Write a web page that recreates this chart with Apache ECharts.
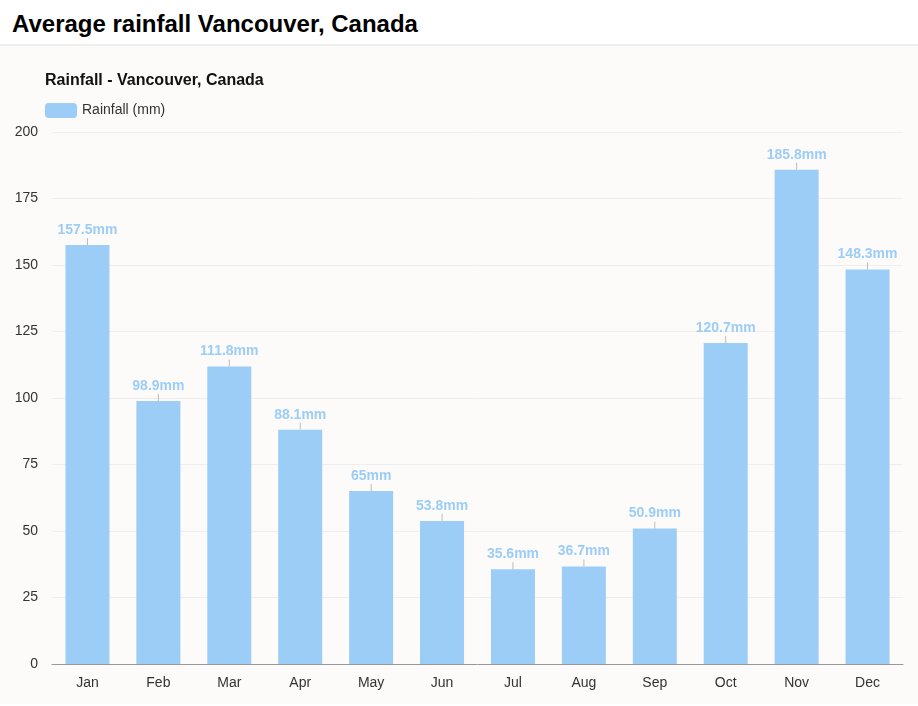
<!DOCTYPE html>
<html>
<head>
<meta charset="utf-8">
<script src="https://cdn.jsdelivr.net/npm/echarts@6/dist/echarts.min.js"></script>
<style>
  body { margin: 0; background: #fff; font-family: Arial, "Liberation Sans", sans-serif; }
  #head { height: 46px; border-bottom: 2px solid #eee; box-sizing: border-box; }
  #head h1 { margin: 0; padding: 10px 0 0 12px; font-size: 24px; font-weight: bold; color: #000; }
  #main { width: 918px; height: 658px; background: #fcfbf9; }
</style>
</head>
<body>
<div id="head"><h1>Average rainfall Vancouver, Canada</h1></div>
<div id="main"></div>
<script>
var months = ['Jan','Feb','Mar','Apr','May','Jun','Jul','Aug','Sep','Oct','Nov','Dec'];
var rainfall = [157.5, 98.9, 111.8, 88.1, 65, 53.8, 35.6, 36.7, 50.9, 120.7, 185.8, 148.3];

var myChart = echarts.init(document.getElementById('main'));
var option = {
    animation: false,
    title: {
        text: 'Rainfall - Vancouver, Canada',
        left: 40, top: 22,
        textStyle: { fontSize: 16, fontWeight: 'bold', color: '#111', fontFamily: 'Arial' }
    },
    legend: {
        left: 40, top: 52,
        itemWidth: 32, itemHeight: 15, itemGap: 6,
        textStyle: { fontSize: 14, color: '#333', fontFamily: 'Arial' },
        data: ['Rainfall (mm)']
    },
    grid: { left: 52, right: 15, top: 86, bottom: 40 },
    xAxis: {
        type: 'category',
        data: months,
        axisTick: { show: false },
        axisLine: { lineStyle: { color: '#999' } },
        axisLabel: { color: '#333', fontSize: 14, margin: 12, fontFamily: 'Arial' }
    },
    yAxis: {
        type: 'value',
        min: 0, max: 200, interval: 25,
        axisLabel: { color: '#333', fontSize: 14, margin: 14, fontFamily: 'Arial' },
        splitLine: { lineStyle: { color: '#eeeeee' } }
    },
    series: [
        {
            name: 'Rainfall (mm)',
            type: 'bar',
            barWidth: 44,
            itemStyle: { color: '#9bcdf7' },
            label: {
                show: true, position: 'top', distance: 8,
                color: '#9bcdf7', fontWeight: 'bold', fontSize: 14, fontFamily: 'Arial',
                formatter: function (p) { return p.value + 'mm'; }
            },
            data: rainfall
        },
        {
            type: 'custom',
            silent: true,
            renderItem: function (params, api) {
                var p = api.coord([api.value(0), api.value(1)]);
                return {
                    type: 'line',
                    shape: { x1: p[0], y1: p[1], x2: p[0], y2: p[1] - 7 },
                    style: { stroke: '#bbb', lineWidth: 1 }
                };
            },
            data: rainfall.map(function (v, i) { return [i, v]; }),
            z: 3
        }
    ]
};
myChart.setOption(option);
</script>
</body>
</html>
